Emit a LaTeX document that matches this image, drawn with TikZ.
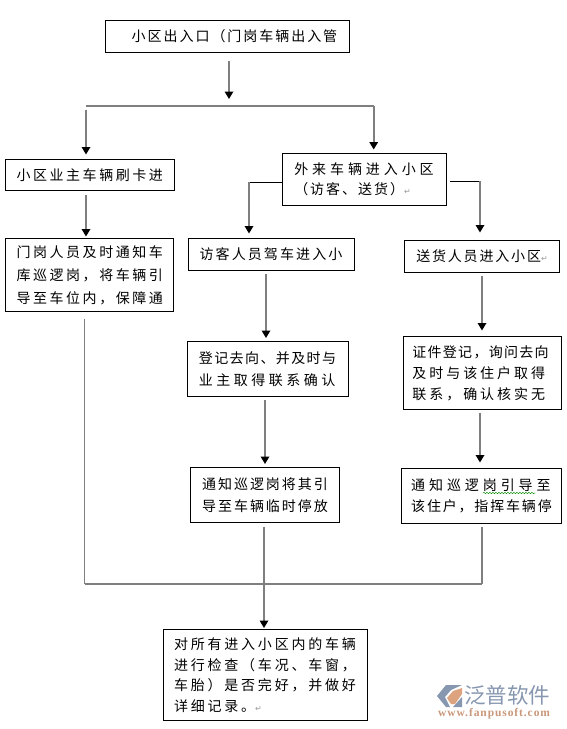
\documentclass[tikz,border=0pt]{standalone}
\usepackage{fontspec}
\usepackage{xcolor}
\usepackage{tikz}
\usetikzlibrary{arrows.meta,positioning,calc,decorations.pathmorphing}
\setmainfont{Noto Sans CJK SC}
\newfontfamily\retfont{DejaVu Sans}
\newfontfamily\urlfont{Liberation Serif}
\definecolor{wiregray}{HTML}{7F7F7F}
\definecolor{logoblue}{HTML}{8797AF}
\definecolor{logoorange}{HTML}{DDA27E}
\definecolor{logourl}{HTML}{C9977A}
\newcommand{\retmark}{{\retfont\fontsize{8}{8}\selectfont\textcolor{black!40}{↵}}}
\newcommand{\track}[2]{{\addfontfeature{LetterSpace=#1}#2}}

\begin{document}
\begin{tikzpicture}[
  x=1pt, y=-1pt,
  flow/.style={draw, line width=0.9pt, inner sep=0pt, outer sep=0pt, align=left, font=\fontsize{14}{#1}\selectfont},
  flow/.default=22,
  edge/.style={draw=wiregray, line width=1.7pt, -{Triangle[length=7.5pt,width=8.5pt,color=black]}},
  wire/.style={draw=wiregray, line width=1.7pt},
  stub/.style={draw=black, line width=0.8pt}
]
\useasboundingbox (0,0) rectangle (566,729);
\node[flow, minimum width=244pt, minimum height=32pt] (top) at (227,36.5) {\hspace*{15pt}\track{14}{小区出入口（门岗车辆出入管}};
\node[flow, minimum width=168.5pt, minimum height=31pt, below=107pt of top, xshift=-137.25pt] (owner) {\track{18}{小区业主车辆刷卡进}};
\node[flow=20, minimum width=164pt, minimum height=52pt, below=101pt of top, xshift=137pt] (ext) {\track{28}{外来车辆进入小区}\\\track{14}{（访客、送货）}\retmark};
\node[flow=23, minimum width=168pt, minimum height=73pt, below=48pt of owner] (gate) {\track{18}{门岗人员及时通知车}\\\track{18}{库巡逻岗，将车辆引}\\\track{18}{导至车位内，保障通}};
\node[flow, minimum width=166pt, minimum height=32pt, below=33pt of ext, xshift=-93pt] (drive) {\track{15}{访客人员驾车进入小}};
\node[flow, minimum width=154.5pt, minimum height=32pt, below=35pt of ext, xshift=118pt] (goods) {\track{13}{送货人员进入小区}\retmark};
\node[flow, minimum width=161pt, minimum height=55pt, below=71pt of drive, xshift=-3.5pt] (record) {\track{10}{登记去向、并及时与}\\\track{25}{业主取得联系确认}};
\node[flow=21, minimum width=158pt, minimum height=73pt, below=64pt of goods] (check) {\hspace*{-3pt}\track{9}{证件登记，询问去向}\\\hspace*{-3pt}\track{21}{及时与该住户取得}\\\hspace*{-3pt}\track{21}{联系，确认核实无}};
\node[flow, minimum width=149pt, minimum height=55pt, below=71pt of record, xshift=-2.5pt] (guard) {\track{14}{通知巡逻岗将其引}\\\track{14}{导至车辆临时停放}};
\node[flow=21.5, minimum width=160pt, minimum height=55pt, below=59pt of check, xshift=-0.5pt] (steer) {\track{28}{通知巡逻岗引导至}\\\track{13}{该住户，指挥车辆停}};
\node[flow=20.5, minimum width=204pt, minimum height=91pt, below=107pt of guard] (final) {\track{20}{对所有进入小区内的车辆}\\\track{20}{进行检查（车况、车窗，}\\\track{20}{车胎）是否完好，并做好}\\\track{20}{详细记录。}\retmark};
\node[font=\fontsize{21.5}{24}\selectfont, text=logoblue, inner sep=0pt, anchor=west] (logoname) at (464,695.5) {泛普软件};
\node[font=\urlfont\bfseries\fontsize{11.5}{12}\selectfont\addfontfeature{LetterSpace=8}, text=logourl, inner sep=0pt, anchor=west] (logourl) at (438,713.5) {www.fanpusoft.com};
\coordinate (busin) at (229,99);
\coordinate (busl) at (86,106);
\coordinate (busr) at (373.7,106);
\coordinate (extl) at (249,182);
\coordinate (extr) at (480,181);
\coordinate (baseb) at (84.5,584);
\coordinate (basem) at (264,584);
\coordinate (basec) at (482,584);
\draw[edge, shorten <=8pt] (top.south -| busin) -- (busin);
\draw[wire] (busl) -- (busr);
\draw[edge, shorten <=4pt, shorten >=5pt] (busl) -- (owner.north -| busl);
\draw[edge, shorten >=4pt] (busr) -- (ext.north -| busr);
\draw[edge, shorten <=4pt, shorten >=2pt] (owner.south -| busl) -- (gate.north -| busl);
\draw[stub] (ext.west |- extl) -- (extl);
\draw[edge, shorten >=5pt] (extl) -- (drive.north -| extl);
\draw[stub, shorten <=4pt] (ext.east |- extr) -- (extr);
\draw[edge, shorten >=8pt] (extr) -- (goods.north -| extr);
\draw[edge, shorten <=3.5pt, shorten >=3.5pt] ([xshift=-5pt]drive.south) -- ([xshift=-1.5pt]record.north);
\draw[edge, shorten <=3pt, shorten >=6pt] (goods.south) -- (check.north);
\draw[edge, shorten <=3pt, shorten >=3.5pt] ([xshift=-2.5pt]record.south) -- (guard.north);
\draw[edge, shorten <=3pt, shorten >=6pt] ([xshift=-2pt]check.south) -- ([xshift=-1.5pt]steer.north);
\draw[wire, shorten <=7pt] (gate.south -| baseb) -- (baseb);
\draw[wire, shorten <=4pt] (guard.south -| basem) -- (basem);
\draw[wire, shorten <=3pt] (steer.south -| basec) -- (basec);
\draw[wire] (baseb) -- (basec);
\draw[edge, shorten >=1.5pt] (basem) -- (final.north -| basem);
% spelling squiggle and logo mark
\draw[green!55!black, line width=0.5pt, decorate, decoration={snake, amplitude=0.6pt, segment length=3pt}] (483,493) -- (535,493);
\fill[logoblue] (437,696) -- (446,685) -- (462,685) -- (451,690) -- (445,697) -- (450,707) -- (446,707) -- cycle;
\fill[logoorange] (447,698) -- (453,691) -- (462,688) -- (462,694) -- (455,704) -- (451,704) -- cycle;
\fill[logoblue] (453,707) -- (462,697) -- (462,707) -- cycle;
\end{tikzpicture}
\end{document}
